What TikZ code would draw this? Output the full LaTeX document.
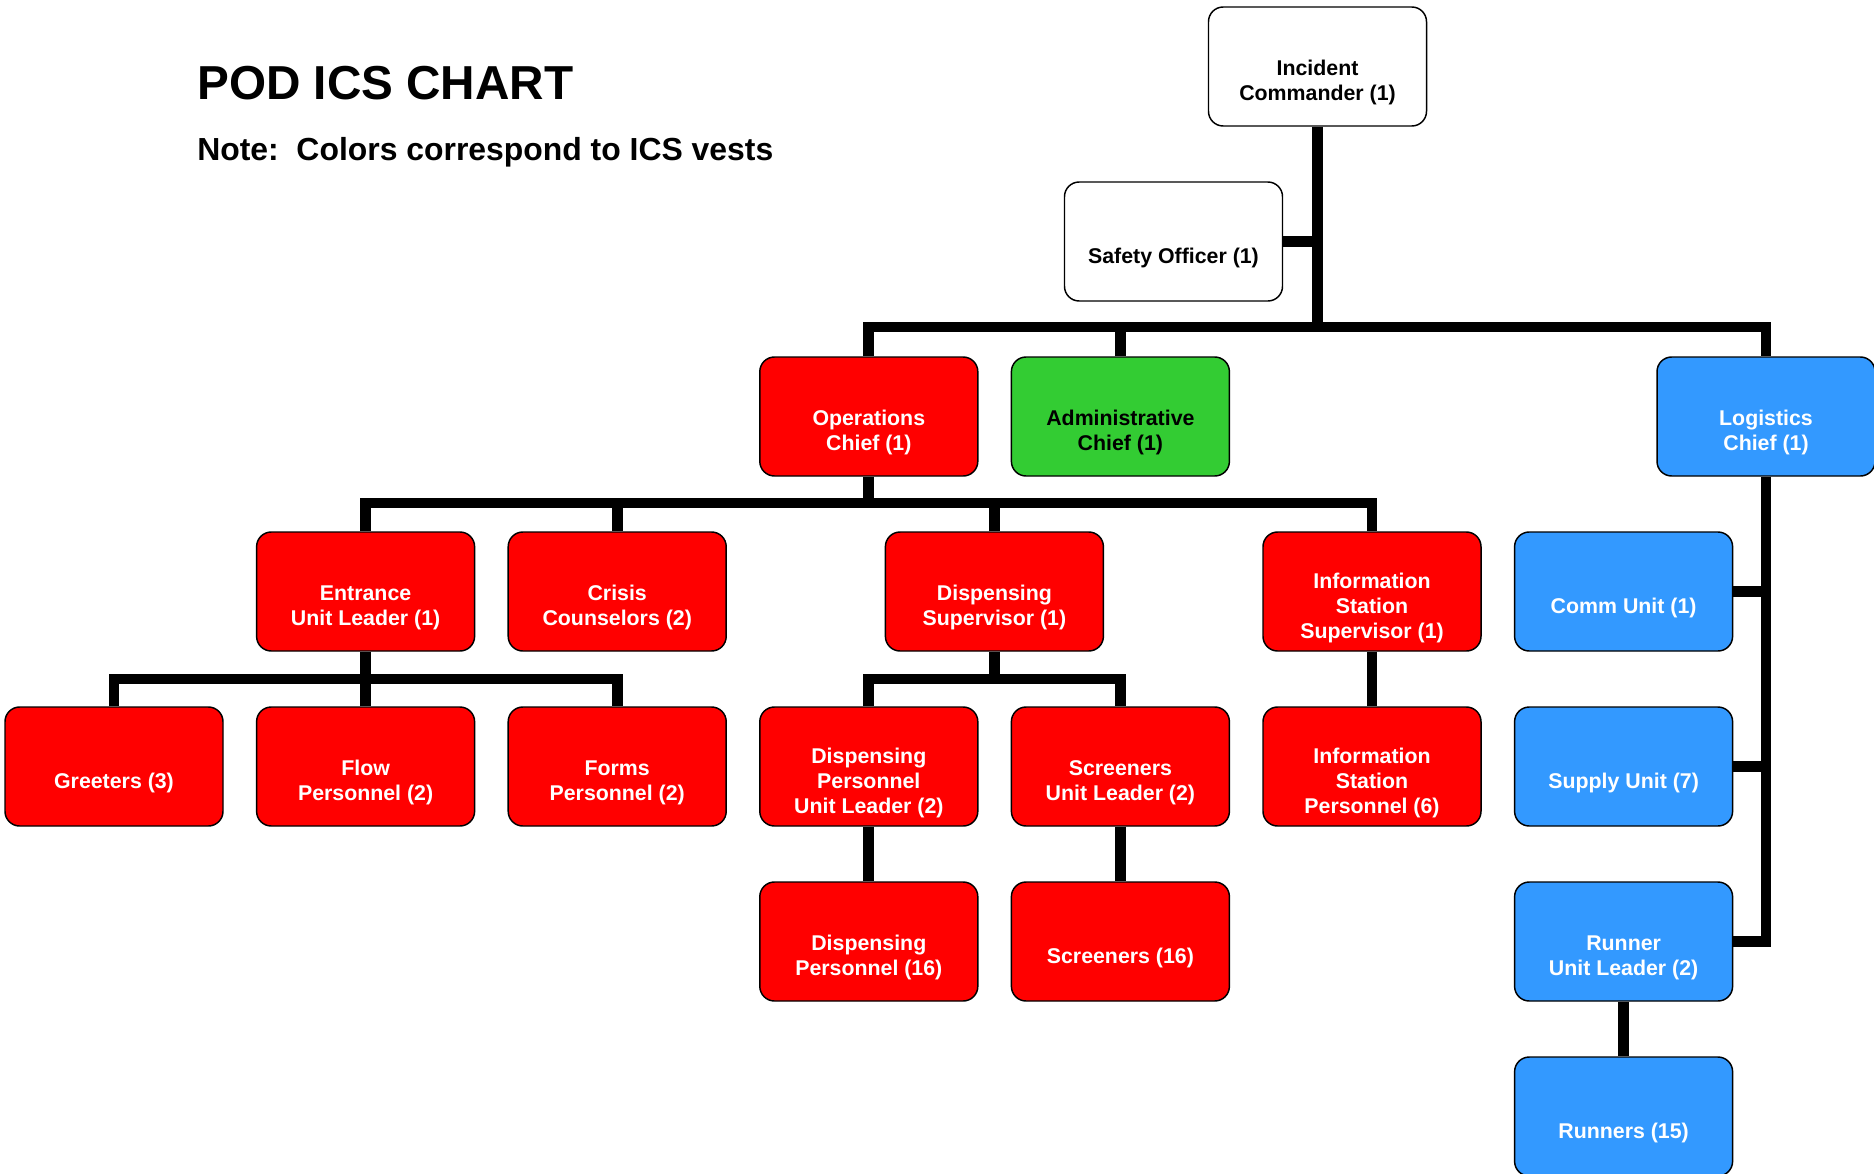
\documentclass[tikz,border=0pt]{standalone}
\usepackage{fontspec}
\setmainfont{Liberation Sans}
\usetikzlibrary{backgrounds}
\definecolor{icsred}{RGB}{255,0,0}
\definecolor{icsgreen}{RGB}{51,204,51}
\definecolor{icsblue}{RGB}{51,153,255}
\newcommand\orgbox[6]{%
  \node[orgshape, fill=#4] (#1) at (#2,#3) {};
  \node[orgtext, text=#5] (#1-t) at ([yshift=-12pt]#1.center) {#6};}
\begin{document}
\begin{tikzpicture}[x=0.75pt,y=-0.75pt,
  orgshape/.style={draw=black, line width=1.1pt, rounded corners=11pt,
    minimum width=163.5pt, minimum height=89.25pt, inner sep=0pt},
  orgtext/.style={font=\bfseries\fontsize{16pt}{18.75pt}\selectfont, align=center, inner sep=0pt},
  link/.style={line width=8pt, line join=miter, line cap=butt},
  titletext/.style={anchor=base west, inner sep=0pt, font=\bfseries}]
\useasboundingbox (0,0) rectangle (1874,1174);

\node[titletext] (title) at (197,99) {\resizebox{282pt}{!}{POD ICS CHART}};
\node[titletext] (note) at (197,160) {\resizebox{432pt}{!}{Note:\ \ Colors correspond to ICS vests}};

\orgbox{ic}{1317.5}{66.5}{white}{black}{Incident\\Commander (1)}
\orgbox{so}{1173.5}{241.5}{white}{black}{Safety Officer (1)}
\orgbox{ops}{868.8}{416.5}{icsred}{white}{Operations\\Chief (1)}
\orgbox{adm}{1120.4}{416.5}{icsgreen}{black}{Administrative\\Chief (1)}
\orgbox{log}{1766}{416.5}{icsblue}{white}{Logistics\\Chief (1)}
\orgbox{ent}{365.6}{591.5}{icsred}{white}{Entrance\\Unit Leader (1)}
\orgbox{cri}{617.2}{591.5}{icsred}{white}{Crisis\\Counselors (2)}
\orgbox{dsup}{994.4}{591.5}{icsred}{white}{Dispensing\\Supervisor (1)}
\orgbox{isup}{1372}{591.5}{icsred}{white}{Information\\Station\\Supervisor (1)}
\orgbox{comm}{1623.6}{591.5}{icsblue}{white}{Comm Unit (1)}
\orgbox{gre}{114}{766.5}{icsred}{white}{Greeters (3)}
\orgbox{flow}{365.6}{766.5}{icsred}{white}{Flow\\Personnel (2)}
\orgbox{forms}{617.2}{766.5}{icsred}{white}{Forms\\Personnel (2)}
\orgbox{dpul}{868.8}{766.5}{icsred}{white}{Dispensing\\Personnel\\Unit Leader (2)}
\orgbox{sul}{1120.4}{766.5}{icsred}{white}{Screeners\\Unit Leader (2)}
\orgbox{isp}{1372}{766.5}{icsred}{white}{Information\\Station\\Personnel (6)}
\orgbox{sup}{1623.6}{766.5}{icsblue}{white}{Supply Unit (7)}
\orgbox{dp}{868.8}{941.5}{icsred}{white}{Dispensing\\Personnel (16)}
\orgbox{scr}{1120.4}{941.5}{icsred}{white}{Screeners (16)}
\orgbox{rul}{1623.6}{941.5}{icsblue}{white}{Runner\\Unit Leader (2)}
\orgbox{run}{1623.6}{1116.5}{icsblue}{white}{Runners (15)}

\coordinate (bus1) at (0,327);
\coordinate (bus2) at (0,503);
\coordinate (bus3) at (0,679);

\begin{pgfonlayer}{background}
\draw[link] (ic.south) -- (ic.south |- bus1);
\draw[link] (so.east) -- (so.east -| ic.south);
\draw[link] (ops.north) |- (log.north |- bus1) -- (log.north);
\draw[link] (adm.north) -- (adm.north |- bus1);
\draw[link] (ops.south) -- (ops.south |- bus2);
\draw[link] (ent.north) |- (isup.north |- bus2) -- (isup.north);
\draw[link] (cri.north) -- (cri.north |- bus2);
\draw[link] (dsup.north) -- (dsup.north |- bus2);
\draw[link] (ent.south) -- (ent.south |- bus3);
\draw[link] (gre.north) |- (forms.north |- bus3) -- (forms.north);
\draw[link] (flow.north) -- (flow.north |- bus3);
\draw[link] (dsup.south) -- (dsup.south |- bus3);
\draw[link] (dpul.north) |- (sul.north |- bus3) -- (sul.north);
\draw[link] (isup.south) -- (isp.north);
\draw[link] (dpul.south) -- (dp.north);
\draw[link] (sul.south) -- (scr.north);
\draw[link] (log.south) |- (rul.east);
\draw[link] (comm.east) -- (comm.east -| log.south);
\draw[link] (sup.east) -- (sup.east -| log.south);
\draw[link] (rul.south) -- (run.north);
\end{pgfonlayer}
\end{tikzpicture}
\end{document}
